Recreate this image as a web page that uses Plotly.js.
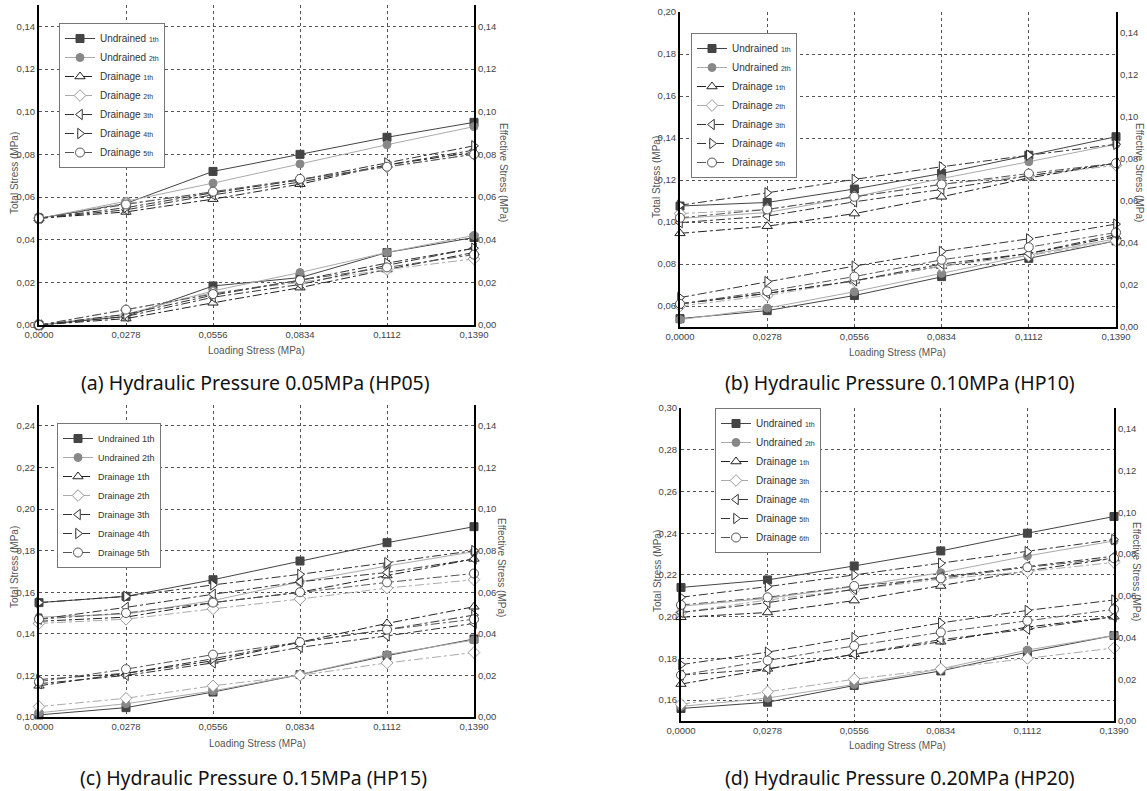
<!DOCTYPE html>
<html><head><meta charset="utf-8">
<script src="https://cdn.plot.ly/plotly-3.0.1.min.js"></script>
<style>html,body{margin:0;padding:0;background:#fff}#chart{width:1147px;height:791px}</style>
</head><body><div id="chart"></div>
<script>
// Loading stress (MPa) – x values / tick values
const loadingStress = [0.0000, 0.0278, 0.0556, 0.0834, 0.1112, 0.1390];

// Series names
const namesABC = ['Undrained 1th','Undrained 2th','Drainage 1th','Drainage 2th','Drainage 3th','Drainage 4th','Drainage 5th'];
const namesD   = ['Undrained 1th','Undrained 2th','Drainage 1th','Drainage 3th','Drainage 4th','Drainage 5th','Drainage 6th'];

// (a) HP05 – total stress (left axis) and effective stress (right axis)
const hp05Total = [
  [0.050, 0.057, 0.072, 0.080, 0.088, 0.095],
  [0.050, 0.058, 0.0665, 0.0755, 0.0845, 0.093],
  [0.050, 0.053, 0.059, 0.066, 0.075, 0.081],
  [0.050, 0.057, 0.062, 0.068, 0.074, 0.080],
  [0.050, 0.054, 0.061, 0.067, 0.075, 0.082],
  [0.050, 0.055, 0.062, 0.068, 0.076, 0.084],
  [0.050, 0.0565, 0.0625, 0.0685, 0.0742, 0.080]
];
const hp05Effective = [
  [0.000, 0.004, 0.0183, 0.0222, 0.034, 0.041],
  [0.000, 0.005, 0.016, 0.0246, 0.034, 0.042],
  [0.000, 0.003, 0.0104, 0.0175, 0.026, 0.034],
  [0.000, 0.007, 0.015, 0.020, 0.026, 0.031],
  [0.000, 0.004, 0.013, 0.019, 0.028, 0.036],
  [0.000, 0.005, 0.014, 0.021, 0.029, 0.036],
  [0.000, 0.0072, 0.0145, 0.021, 0.027, 0.033]
];

// (b) HP10
const hp10Total = [
  [0.1076, 0.1093, 0.1157, 0.1231, 0.1318, 0.1406],
  [0.1017, 0.1045, 0.112, 0.1207, 0.1287, 0.137],
  [0.0946, 0.098, 0.104, 0.112, 0.121, 0.128],
  [0.104, 0.106, 0.112, 0.118, 0.122, 0.127],
  [0.0997, 0.1028, 0.1096, 0.1155, 0.122, 0.128],
  [0.108, 0.1139, 0.1203, 0.1263, 0.1318, 0.137],
  [0.102, 0.106, 0.112, 0.1179, 0.1231, 0.128]
];
const hp10Effective = [
  [0.004, 0.0078, 0.015, 0.024, 0.0327, 0.041],
  [0.0035, 0.009, 0.0168, 0.0255, 0.0343, 0.042],
  [0.011, 0.016, 0.022, 0.029, 0.035, 0.043],
  [0.010, 0.015, 0.022, 0.029, 0.034, 0.041],
  [0.011, 0.016, 0.022, 0.030, 0.035, 0.044],
  [0.014, 0.0216, 0.029, 0.036, 0.042, 0.049],
  [0.011, 0.017, 0.024, 0.032, 0.038, 0.045]
];

// (c) HP15
const hp15Total = [
  [0.155, 0.158, 0.166, 0.175, 0.1838, 0.1915],
  [0.148, 0.1495, 0.156, 0.165, 0.1726, 0.1795],
  [0.146, 0.148, 0.155, 0.160, 0.168, 0.176],
  [0.145, 0.147, 0.152, 0.1567, 0.162, 0.166],
  [0.147, 0.1527, 0.159, 0.165, 0.1695, 0.176],
  [0.155, 0.158, 0.1635, 0.1686, 0.1742, 0.180],
  [0.147, 0.150, 0.155, 0.160, 0.1647, 0.169]
];
const hp15Effective = [
  [0.001, 0.0045, 0.012, 0.0204, 0.0295, 0.0375],
  [0.002, 0.0064, 0.0125, 0.0205, 0.030, 0.037],
  [0.015, 0.021, 0.027, 0.036, 0.045, 0.053],
  [0.005, 0.009, 0.015, 0.020, 0.026, 0.031],
  [0.016, 0.020, 0.026, 0.0335, 0.039, 0.045],
  [0.018, 0.021, 0.028, 0.036, 0.042, 0.049],
  [0.017, 0.023, 0.030, 0.036, 0.042, 0.047]
];

// (d) HP20
const hp20Total = [
  [0.214, 0.2176, 0.2243, 0.2315, 0.240, 0.248],
  [0.205, 0.2088, 0.2144, 0.2211, 0.2291, 0.2363],
  [0.1997, 0.202, 0.2077, 0.2147, 0.222, 0.228],
  [0.202, 0.208, 0.213, 0.218, 0.2216, 0.226],
  [0.202, 0.2067, 0.2131, 0.219, 0.224, 0.229],
  [0.2093, 0.2144, 0.220, 0.2256, 0.2312, 0.237],
  [0.2056, 0.2093, 0.2147, 0.2184, 0.2237, 0.228]
];
const hp20Effective = [
  [0.006, 0.009, 0.017, 0.024, 0.033, 0.041],
  [0.007, 0.011, 0.0175, 0.025, 0.034, 0.041],
  [0.0177, 0.025, 0.032, 0.038, 0.045, 0.050],
  [0.008, 0.014, 0.020, 0.025, 0.030, 0.035],
  [0.022, 0.025, 0.032, 0.039, 0.044, 0.050],
  [0.027, 0.033, 0.040, 0.047, 0.053, 0.058],
  [0.022, 0.029, 0.036, 0.0425, 0.048, 0.0535]
];

// styles per series index
const seriesStyle = [
  {line:{color:'#444', width:1, dash:'solid'}, marker:{symbol:'square', size:8, color:'#444', line:{color:'#444', width:1}}},
  {line:{color:'#aaa', width:1, dash:'solid'}, marker:{symbol:'circle', size:8, color:'#888', line:{color:'#888', width:1}}},
  {line:{color:'#222', width:1, dash:'dashdot'}, marker:{symbol:'triangle-up', size:9, color:'#fff', line:{color:'#222', width:1}}},
  {line:{color:'#aaa', width:1, dash:'dashdot'}, marker:{symbol:'diamond', size:9, color:'#fff', line:{color:'#999', width:1}}},
  {line:{color:'#333', width:1, dash:'dashdot'}, marker:{symbol:'triangle-left', size:9, color:'#fff', line:{color:'#333', width:1}}},
  {line:{color:'#333', width:1, dash:'dashdot'}, marker:{symbol:'triangle-right', size:9, color:'#fff', line:{color:'#333', width:1}}},
  {line:{color:'#555', width:1, dash:'dashdot'}, marker:{symbol:'circle', size:9, color:'#fff', line:{color:'#555', width:1}}}
];

function legendLabel(name, small) {
  if (!small) return name;
  const parts = name.split(' ');
  return parts[0] + ' <span style="font-size:7px">' + parts[1] + '</span>';
}

const traces = [];
function addPanel(total, eff, names, xa, yL, yR, legendId, smallOrdinal) {
  for (let i = 0; i < total.length; i++) {
    const st = seriesStyle[i];
    traces.push({
      x: loadingStress, y: total[i], xaxis: xa, yaxis: yL,
      name: legendLabel(names[i], smallOrdinal), legend: legendId, legendgroup: legendId + '_' + i,
      mode: 'lines+markers', line: st.line, marker: st.marker, cliponaxis: false
    });
    traces.push({
      x: loadingStress, y: eff[i], xaxis: xa, yaxis: yR,
      name: names[i], legend: legendId, legendgroup: legendId + '_' + i, showlegend: false,
      mode: 'lines+markers', line: st.line, marker: st.marker, cliponaxis: false
    });
  }
}
addPanel(hp05Total, hp05Effective, namesABC, 'x', 'y', 'y2', 'legend', true);
addPanel(hp10Total, hp10Effective, namesABC, 'x2', 'y3', 'y4', 'legend2', true);
addPanel(hp15Total, hp15Effective, namesABC, 'x3', 'y5', 'y6', 'legend3', false);
addPanel(hp20Total, hp20Effective, namesD, 'x4', 'y7', 'y8', 'legend4', true);

const W = 1147, H = 791;
const tickFont = {family:'Liberation Sans, Arial, sans-serif', size:9.5, color:'#444'};
function xAx(x0, x1, anchor) {
  return {domain:[x0/W, x1/W], anchor, range:[0, 0.139], tickvals: loadingStress, tickformat: '.4f',
    showgrid:true, gridcolor:'#555', griddash:'dot', gridwidth:1, showline:true, linecolor:'#000', linewidth:2,
    ticks:'', zeroline:false, tickfont: tickFont, fixedrange:true};
}
function yLeft(top, bottom, anchor, range) {
  return {domain:[1 - bottom/H, 1 - top/H], anchor, range, dtick:0.02, tick0:0, tickformat:'.2f',
    showgrid:true, gridcolor:'#555', griddash:'dot', gridwidth:1, showline:true, linecolor:'#000', linewidth:2,
    ticks:'', zeroline:false, tickfont: tickFont, fixedrange:true};
}
function yRight(overlay, anchor) {
  return {overlaying: overlay, side:'right', anchor, range:[0, 0.15], dtick:0.02, tick0:0, tickformat:'.2f',
    showgrid:false, showline:true, linecolor:'#000', linewidth:2, ticks:'', zeroline:false,
    tickfont: tickFont, fixedrange:true};
}
function legendAt(x, y, size) {
  return {x: x/W, y: 1 - y/H, xanchor:'left', yanchor:'top', bgcolor:'#fff', bordercolor:'#777', borderwidth:1,
    font:{family:'Liberation Sans, Arial, sans-serif', size: size, color:'#333'}, itemwidth:30,
    tracegroupgap:0, traceorder:'normal'};
}

const labelFont = {family:'Liberation Sans, Arial, sans-serif', size:10, color:'#555'};
const capFont = {family:'Noto Sans, sans-serif', size:19.5, color:'#111'};
function ann(text, x, y, font, angle) {
  return {text, x: x/W, y: 1 - y/H, xref:'paper', yref:'paper', showarrow:false, font, textangle: angle || 0,
    xanchor:'center', yanchor:'middle'};
}

const layout = {
  width: W, height: H, margin:{l:0, r:0, t:0, b:0}, paper_bgcolor:'#fff', plot_bgcolor:'#fff',
  separators: ',.', showlegend: true, hovermode: false,
  xaxis:  xAx(39, 474, 'y'),
  yaxis:  yLeft(5, 325, 'x', [0, 0.15]),
  yaxis2: yRight('y', 'x'),
  xaxis2: xAx(680, 1116, 'y3'),
  yaxis3: yLeft(12, 327, 'x2', [0.05, 0.20]),
  yaxis4: yRight('y3', 'x2'),
  xaxis3: xAx(39, 474, 'y5'),
  yaxis5: yLeft(405, 717, 'x3', [0.10, 0.25]),
  yaxis6: yRight('y5', 'x3'),
  xaxis4: xAx(681, 1114, 'y7'),
  yaxis7: yLeft(408, 721, 'x4', [0.15, 0.30]),
  yaxis8: yRight('y7', 'x4'),
  legend:  legendAt(59, 23, 10),
  legend2: legendAt(691, 33, 10),
  legend3: legendAt(57, 423, 9),
  legend4: legendAt(715, 408, 10),
  annotations: [
    ann('Total Stress (MPa)', 14, 173, labelFont, -90),
    ann('Effective Stress (MPa)', 503, 172, labelFont, 90),
    ann('Loading Stress (MPa)', 256, 351, labelFont),
    ann('(a) Hydraulic Pressure 0.05MPa (HP05)', 255, 382, capFont),

    ann('Total Stress (MPa)', 656, 177, labelFont, -90),
    ann('Effective Stress (MPa)', 1139, 172, labelFont, 90),
    ann('Loading Stress (MPa)', 898, 352, labelFont),
    ann('(b) Hydraulic Pressure 0.10MPa (HP10)', 900, 382, capFont),

    ann('Total Stress (MPa)', 14, 567, labelFont, -90),
    ann('Effective Stress (MPa)', 502, 567, labelFont, 90),
    ann('Loading Stress (MPa)', 257, 743, labelFont),
    ann('(c) Hydraulic Pressure 0.15MPa (HP15)', 253, 777, capFont),

    ann('Total Stress (MPa)', 657, 571, labelFont, -90),
    ann('Effective Stress (MPa)', 1137, 571, labelFont, 90),
    ann('Loading Stress (MPa)', 898, 745, labelFont),
    ann('(d) Hydraulic Pressure 0.20MPa (HP20)', 900, 777, capFont)
  ]
};

Plotly.newPlot('chart', traces, layout, {staticPlot:true, displayModeBar:false});
</script>
</body></html>
